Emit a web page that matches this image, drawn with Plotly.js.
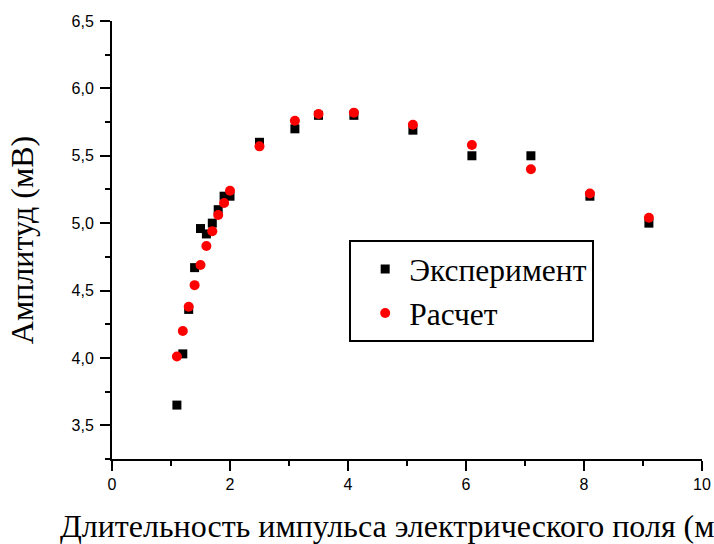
<!DOCTYPE html>
<html>
<head>
<meta charset="utf-8">
<script src="https://cdn.plot.ly/plotly-3.0.1.min.js"></script>
<style>html,body{margin:0;padding:0;background:#fff;}#chart{width:714px;height:544px;}</style>
</head>
<body>
<div id="chart"></div>
<script>
const pulseDuration = [1.1, 1.2, 1.3, 1.4, 1.5, 1.6, 1.7, 1.8, 1.9, 2.0, 2.5, 3.1, 3.5, 4.1, 5.1, 6.1, 7.1, 8.1, 9.1];
const experimentAmp = [3.65, 4.03, 4.36, 4.67, 4.96, 4.92, 5.00, 5.10, 5.20, 5.20, 5.60, 5.70, 5.80, 5.80, 5.69, 5.50, 5.50, 5.20, 5.00];
const calcAmp = [4.01, 4.20, 4.38, 4.54, 4.69, 4.83, 4.94, 5.06, 5.15, 5.24, 5.57, 5.76, 5.81, 5.82, 5.73, 5.58, 5.40, 5.22, 5.04];
const seriesNames = ["Эксперимент", "Расчет"];
const xTitle = "Длительность импульса электрического поля (мкс)";
const yTitle = "Амплитуд (мВ)";

const SERIF_FONT = "Liberation Serif";
const SANS_FONT = "Liberation Sans";

const traces = [
  {x: pulseDuration, y: experimentAmp, name: seriesNames[0], type: "scatter", mode: "markers",
   marker: {symbol: "square", size: 9, color: "#000000"}},
  {x: pulseDuration, y: calcAmp, name: seriesNames[1], type: "scatter", mode: "markers",
   marker: {symbol: "circle", size: 10, color: "#ff0000"}}
];

function axisBase() {
  return {
    showgrid: false, zeroline: false, showline: true, linecolor: "#000", linewidth: 2,
    ticks: "outside", ticklen: 10, tickwidth: 2, tickcolor: "#000",
    tickfont: {family: SANS_FONT, size: 16, color: "#000"},
    mirror: false
  };
}

const xaxis = axisBase();
xaxis.range = [0, 10]; xaxis.dtick = 2; xaxis.tick0 = 0;
xaxis.minor = {ticks: "outside", ticklen: 5, tickwidth: 2, tickcolor: "#000", dtick: 1};
xaxis.title = {text: xTitle, font: {family: SERIF_FONT, size: 32, color: "#000"}, standoff: 28};

const yaxis = axisBase();
yaxis.range = [3.25, 6.5]; yaxis.dtick = 0.5; yaxis.tick0 = 3.5; yaxis.tickformat = ".1f";
yaxis.ticklabelstandoff = 3;
yaxis.minor = {ticks: "outside", ticklen: 5, tickwidth: 2, tickcolor: "#000", dtick: 0.25};
yaxis.title = {text: yTitle, font: {family: SERIF_FONT, size: 32, color: "#000"}, standoff: 28};

const layout = {
  width: 714, height: 544,
  margin: {l: 112, r: 12, t: 21, b: 85},
  paper_bgcolor: "#fff", plot_bgcolor: "#fff",
  separators: ", ",
  showlegend: true,
  xaxis: xaxis,
  yaxis: yaxis,
  legend: {
    x: 0.402, y: 0.5, xanchor: "left", yanchor: "top",
    bordercolor: "#000", borderwidth: 2, bgcolor: "#fff",
    font: {family: SERIF_FONT, size: 31.5, color: "#000"},
    indentation: 10, itemwidth: 38,
    entrywidth: 257, entrywidthmode: "pixels",
    tracegroupgap: 0
  }
};

Plotly.newPlot("chart", traces, layout, {displayModeBar: false});
</script>
</body>
</html>
